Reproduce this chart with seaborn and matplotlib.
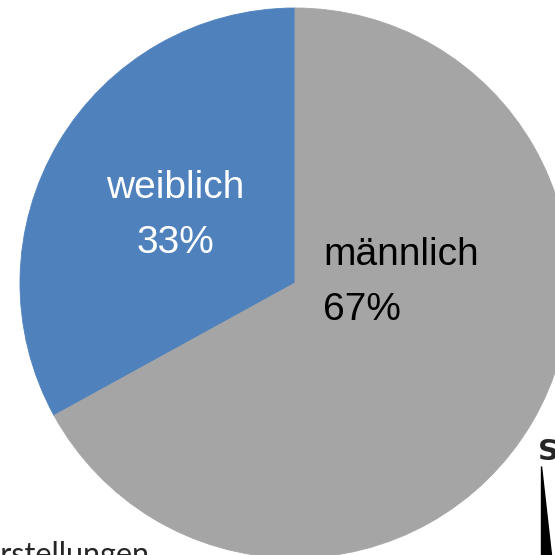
import matplotlib.pyplot as plt
import seaborn as sns
from matplotlib.patches import Polygon

# Geschlechterverteilung
labels = ['weiblich', 'männlich']
shares = [33, 67]
colors = ['#4F81BD', '#A5A5A5']
text_colors = ['white', 'black']

sns.set_style('white')
plt.rcParams['font.family'] = ['Liberation Sans', 'DejaVu Sans']

W = H = 555
fig = plt.figure(figsize=(5.55, 5.55), dpi=100)
# pie centre at (295, 283) px, radius 275 px
ax = fig.add_axes([20 / W, (H - 558) / H, 550 / W, 550 / H])
ax.pie(shares, colors=colors, startangle=90, counterclock=True, radius=1,
       wedgeprops=dict(linewidth=0.6, edgecolor=None))
for w, c in zip(ax.patches, colors):
    w.set_edgecolor(c)
ax.set_xlim(-1, 1)
ax.set_ylim(-1, 1)
ax.set_aspect('equal')
ax.axis('off')

# label anchors (x, baseline of first line, ha)
anchors = [(-0.436, 0.309, 'center'), (0.102, 0.065, 'left')]
for lab, val, col, (x, y, ha) in zip(labels, shares, text_colors, anchors):
    ax.text(x, y, lab, color=col, fontsize=28, ha=ha, va='baseline')
    ax.text(x, y - 0.2, f'{val}%', color=col, fontsize=28, ha=ha, va='baseline')

# cut-off caption at the bottom left
fig.text(149 / W, (H - 564) / H, 'Darstellungen', fontsize=22, ha='right',
         va='baseline', family=['Lato', 'DejaVu Sans'])

# logo fragment at the bottom right
fig.text(538 / W, (H - 460) / H, 'S', fontsize=21, fontweight='bold',
         ha='left', va='baseline', family=['DejaVu Sans'])
fig.patches.append(Polygon([(541 / W, (H - 466) / H), (541 / W, 0), (551 / W, 0)],
                           closed=True, color='black', transform=fig.transFigure,
                           figure=fig))

fig.savefig('out.png', dpi=100)
